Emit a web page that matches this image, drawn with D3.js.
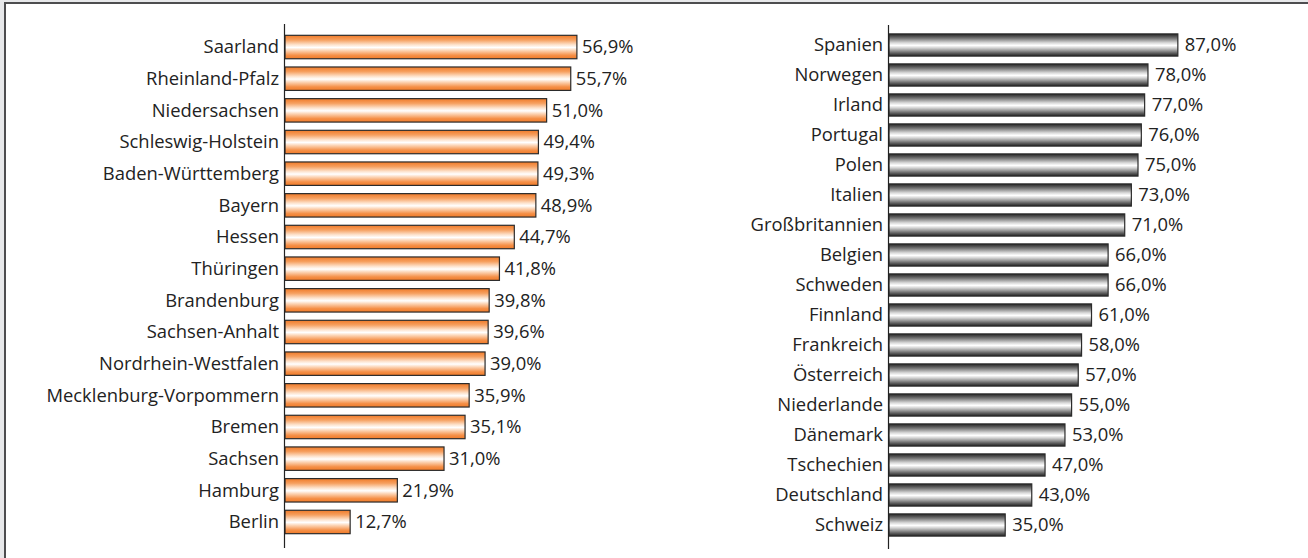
<!DOCTYPE html>
<html>
<head>
<meta charset="utf-8">
<script src="https://cdn.jsdelivr.net/npm/d3@7"></script>
<style>
  html, body { margin: 0; padding: 0; background: #e7e8ea; }
  svg { display: block; }
  text { font-family: "Open Sans", sans-serif; font-size: 18.4px; fill: #222; }
</style>
</head>
<body>
<svg id="chart" width="1308" height="558"></svg>
<script>
// German federal states
var states = ["Saarland", "Rheinland-Pfalz", "Niedersachsen", "Schleswig-Holstein",
  "Baden-Württemberg", "Bayern", "Hessen", "Thüringen", "Brandenburg", "Sachsen-Anhalt",
  "Nordrhein-Westfalen", "Mecklenburg-Vorpommern", "Bremen", "Sachsen", "Hamburg", "Berlin"];
var stateValues = [56.9, 55.7, 51.0, 49.4, 49.3, 48.9, 44.7, 41.8, 39.8, 39.6, 39.0, 35.9, 35.1, 31.0, 21.9, 12.7];

// European countries
var countries = ["Spanien", "Norwegen", "Irland", "Portugal", "Polen", "Italien",
  "Großbritannien", "Belgien", "Schweden", "Finnland", "Frankreich", "Österreich",
  "Niederlande", "Dänemark", "Tschechien", "Deutschland", "Schweiz"];
var countryValues = [87.0, 78.0, 77.0, 76.0, 75.0, 73.0, 71.0, 66.0, 66.0, 61.0, 58.0, 57.0, 55.0, 53.0, 47.0, 43.0, 35.0];

var svg = d3.select("#chart");

// frame: white panel with a dark edge on the left and top
svg.append("rect").attr("x", 6).attr("y", 4).attr("width", 1302).attr("height", 554).attr("fill", "#fff");
svg.append("line").attr("x1", 5).attr("x2", 5).attr("y1", 3).attr("y2", 558)
  .attr("stroke", "#4d4d4f").attr("stroke-width", 2);
svg.append("line").attr("x1", 4).attr("x2", 1308).attr("y1", 3).attr("y2", 3)
  .attr("stroke", "#4d4d4f").attr("stroke-width", 2);

var defs = svg.append("defs");
function addGradient(id, stops) {
  var g = defs.append("linearGradient").attr("id", id)
    .attr("x1", 0).attr("y1", 0).attr("x2", 0).attr("y2", 1);
  stops.forEach(function(s) {
    g.append("stop").attr("offset", s[0]).attr("stop-color", s[1]);
  });
}
addGradient("orange", [["0%", "#f07a28"], ["20%", "#f6a060"], ["40%", "#fde2cc"],
  ["52%", "#ffffff"], ["64%", "#fcd6b8"], ["85%", "#f59048"], ["100%", "#f07a28"]]);
addGradient("grey", [["0%", "#222222"], ["20%", "#777777"], ["40%", "#d8d8d8"],
  ["52%", "#ffffff"], ["64%", "#cfcfcf"], ["85%", "#666666"], ["100%", "#222222"]]);

var fmt = function(v) { return d3.format(".1f")(v).replace(".", ",") + "%"; };

function drawPanel(names, values, x0, pxPer100, yRange, axisY, fill, gap) {
  var x = d3.scaleLinear().domain([0, 100]).range([x0, x0 + pxPer100]);
  var y = d3.scaleBand().domain(names).range(yRange).paddingInner(0.26).paddingOuter(0.13);
  var g = svg.append("g");

  g.selectAll("rect.bar").data(values).enter().append("rect")
    .attr("class", "bar")
    .attr("x", x(0))
    .attr("y", function(d, i) { return y(names[i]); })
    .attr("width", function(d) { return x(d) - x(0); })
    .attr("height", y.bandwidth())
    .attr("fill", "url(#" + fill + ")")
    .attr("stroke", "#2b2b2b")
    .attr("stroke-width", 1.2);

  g.selectAll("text.val").data(values).enter().append("text")
    .attr("class", "val")
    .attr("x", function(d) { return x(d) + gap; })
    .attr("y", function(d, i) { return y(names[i]) + y.bandwidth() / 2; })
    .attr("dy", "0.35em")
    .text(fmt);

  g.selectAll("text.lbl").data(names).enter().append("text")
    .attr("class", "lbl")
    .attr("x", x0 - 6)
    .attr("y", function(d) { return y(d) + y.bandwidth() / 2; })
    .attr("dy", "0.35em")
    .attr("text-anchor", "end")
    .text(function(d) { return d; });

  g.append("line")
    .attr("x1", x0 - 0.5).attr("x2", x0 - 0.5)
    .attr("y1", axisY[0]).attr("y2", axisY[1])
    .attr("stroke", "#222").attr("stroke-width", 1.2);
}

drawPanel(states, stateValues, 285, 513, [31.2, 537.8], [24, 548], "orange", 5);
drawPanel(countries, countryValues, 889, 332, [30, 540], [25, 549], "grey", 7);
</script>
</body>
</html>
